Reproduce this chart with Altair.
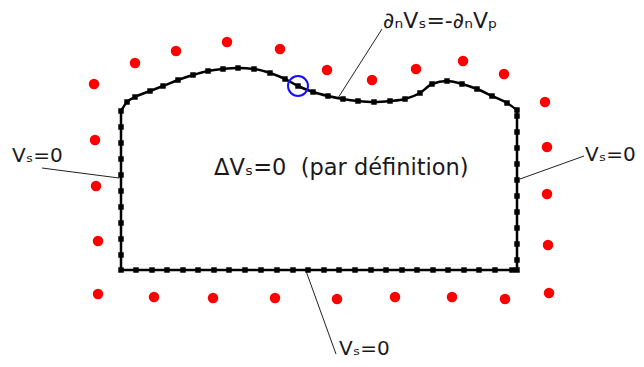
import altair as alt
import pandas as pd

# Top (free-form) boundary, left to right, marker positions (pixel coords)
curve_x = [121, 127, 135, 150, 163, 178, 193, 208, 223, 238, 254, 270, 285, 298, 313,
           328, 343, 358, 374, 390, 405, 420, 432, 447, 462, 477, 492, 507, 517]
curve_y = [111, 102, 97, 91, 86, 80, 75, 71, 69, 68, 69, 73, 79, 86, 92,
           96, 99, 101, 102, 101, 99, 93, 84, 81, 84, 89, 96, 103, 110]

# Straight part of the boundary (left side down, bottom, right side up)
rect_x = [121, 121, 517, 517]
rect_y = [111, 270, 270, 110]

# Markers on straight edges
left_y = [127, 143, 159, 175, 191, 207, 223, 239, 255, 270]
right_y = [116, 132, 148, 164, 180, 196, 212, 228, 244, 260, 270]
bottom_x = [136, 152, 167, 183, 198, 214, 229, 245, 261, 277, 293, 308, 324, 339,
            355, 371, 386, 402, 417, 433, 448, 464, 479, 495, 512]

# Red source points
red_x = [94, 135, 176, 227, 280, 327, 372, 416, 463, 504, 545, 547, 547, 548, 549,
         505, 452, 395, 337, 275, 213, 154, 98, 98, 96, 95]
red_y = [84, 63, 51, 42, 49, 70, 80, 69, 61, 74, 102, 147, 194, 245, 293,
         299, 297, 297, 299, 298, 298, 297, 294, 241, 186, 140]

# Highlighted point
blue_x = [298]
blue_y = [86]

# Leader lines
lead_x = [338, 42, 520, 306]
lead_y = [98, 168, 179, 271]
lead_x2 = [382, 119, 584, 336]
lead_y2 = [29, 178, 156, 354]

# Labels
label_text = ["∂ₙVₛ=-∂ₙVₚ", "Vₛ=0", "Vₛ=0", "Vₛ=0", "ΔVₛ=0\u00a0 (par définition)"]
label_x = [383, 12, 585, 339, 214]
label_y = [21, 156, 155, 349, 168]
label_size = [22, 20, 20, 20, 22.5]

W, H = 628, 351
xs = alt.Scale(domain=[8, 8 + W], range=[0, W], nice=False, zero=False)
ys = alt.Scale(domain=[8, 8 + H], range=[0, H], nice=False, zero=False)

def X(f="x"):
    return alt.X(f"{f}:Q", scale=xs, axis=None)

def Y(f="y"):
    return alt.Y(f"{f}:Q", scale=ys, axis=None)

curve_df = pd.DataFrame({"x": curve_x, "y": curve_y, "o": range(len(curve_x))})
rect_df = pd.DataFrame({"x": rect_x, "y": rect_y, "o": range(len(rect_x))})
mk_df = pd.DataFrame({
    "x": curve_x + [121] * len(left_y) + bottom_x + [517] * len(right_y),
    "y": curve_y + left_y + [270] * len(bottom_x) + right_y,
})
red_df = pd.DataFrame({"x": red_x, "y": red_y})
blue_df = pd.DataFrame({"x": blue_x, "y": blue_y})
lead_df = pd.DataFrame({"x": lead_x, "y": lead_y, "x2": lead_x2, "y2": lead_y2})
lab_df = pd.DataFrame({"t": label_text, "x": label_x, "y": label_y, "s": label_size})

curve = alt.Chart(curve_df).mark_line(color="black", strokeWidth=2.5, interpolate="monotone").encode(
    x=X(), y=Y(), order="o:Q")
rect = alt.Chart(rect_df).mark_line(color="black", strokeWidth=2.5).encode(
    x=X(), y=Y(), order="o:Q")
markers = alt.Chart(mk_df).mark_square(color="black", size=30, opacity=1).encode(x=X(), y=Y())
red = alt.Chart(red_df).mark_circle(color="#ff0000", size=110, opacity=1).encode(x=X(), y=Y())
blue = alt.Chart(blue_df).mark_point(shape="circle", color="#1010ff", size=400, strokeWidth=2,
                                     filled=False, opacity=1).encode(x=X(), y=Y())
leads = alt.Chart(lead_df).mark_rule(color="#222222", strokeWidth=1).encode(
    x=X(), y=Y(), x2="x2:Q", y2="y2:Q")
labels = alt.Chart(lab_df).mark_text(align="left", baseline="middle", font="DejaVu Sans",
                                     color="#1a1a1a").encode(
    x=X(), y=Y(), text="t:N", size=alt.Size("s:Q", scale=None, legend=None))

chart = alt.layer(red, leads, rect, curve, markers, blue, labels).properties(
    width=W, height=H,
    autosize=alt.AutoSizeParams(type="none"),
    padding=0,
    background="white",
).configure_view(stroke=None)

chart.save("out.html", embed_options={"renderer": "svg", "actions": False})
